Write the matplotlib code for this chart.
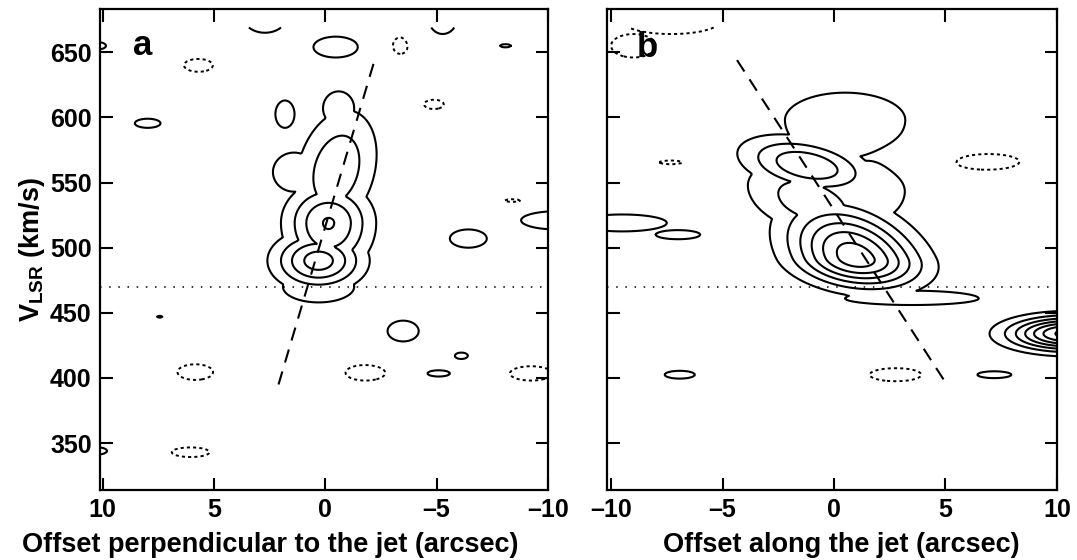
import numpy as np
import matplotlib
matplotlib.use("Agg")
import matplotlib.pyplot as plt

plt.rcParams["font.family"] = ["Liberation Sans", "DejaVu Sans"]
plt.rcParams["font.weight"] = "bold"
plt.rcParams["axes.labelweight"] = "bold"
plt.rcParams["mathtext.fontset"] = "custom"
plt.rcParams["mathtext.bf"] = "Liberation Sans:bold"
plt.rcParams["mathtext.rm"] = "Liberation Sans:bold"

# ---------------- data ----------------
xticks_a = [10, 5, 0, -5, -10]
xticks_b = [-10, -5, 0, 5, 10]
yticks = [350, 400, 450, 500, 550, 600, 650]
xlim_a = (10.12, -10.0)
xlim_b = (-10.17, 10.02)
ylim = (314, 683)
v_top_of_cube = 669          # velocity coverage of the data cube ends here
v_systemic = 470
jet_a_x = [2.1, -2.2]
jet_a_v = [395, 643]
jet_b_x = [-4.35, 5.1]
jet_b_v = [644, 394]

levels_pos = [1, 2, 3, 4, 5, 6, 7]
levels_neg = [-1]

# emission knots: (offset, velocity, peak level, half-width x of lowest contour,
#                  half-width v below, half-width v above, shear dx/dv)
knots_a = [
    (0.3, 490, 4.5, 2.3, 25, 25, 0.0),
    (0.3, 470, 1.6, 1.6, 12, 12, 0.0),
    (-0.15, 519, 4.08, 2.14, 40, 33, 0.0),
    (-0.5, 560, 2.8, 1.75, 45.5, 45.5, -0.01),
    (-0.6, 607, 1.4, 0.7, 13, 13, 0.0),
    (1.4, 558, 1.5, 0.95, 15, 15, 0.0),
]
knots_b = [
    (1.0, 492, 6.6, 3.6, 30, 52, -0.028),
    (-1.2, 563, 3.9, 2.9, 23, 24, -0.05),
    (-1.0, 535, 2.6, 2.6, 27, 30, -0.04),
    (0.5, 598, 1.7, 2.7, 30, 21, 0.0),
    (1.7, 545, 1.5, 1.5, 24, 24, 0.0),
    (3.5, 461, 1.5, 3.0, 5, 6, 0.0),
    (10.6, 434, 7.5, 3.62, 17.5, 17.5, 0.0),
]
# single-contour islands: (offset, velocity, half-width x, half-width v)
islands_a_pos = [
    (2.71, 678, 1.0, 13), (-5.27, 676, 0.65, 12), (-0.47, 654, 1.0, 8),
    (-8.1, 655, 0.25, 1.2), (7.98, 595.5, 0.58, 3.5), (1.81, 602.5, 0.43, 10.5),
    (-6.43, 507, 0.83, 7), (-10.4, 521, 1.6, 7), (-3.5, 436, 0.7, 8),
    (-6.12, 417, 0.3, 2.5), (-5.07, 403.5, 0.55, 2.5), (7.44, 447, 0.12, 0.8),
    (10.3, 655, 0.45, 3), (10.35, 344, 0.55, 3),
]
islands_a_neg = [
    (5.69, 640, 0.66, 5), (-3.33, 655, 0.43, 7.5), (-4.88, 610, 0.45, 3.6),
    (-8.45, 536, 0.59, 1.8), (5.84, 404.5, 0.8, 6), (-1.81, 404, 0.9, 6),
    (-9.25, 403.5, 0.95, 5.5), (6.05, 343, 0.85, 3.7),
]
islands_b_pos = [
    (-6.92, 402.5, 0.68, 3), (7.15, 402.5, 0.82, 2.7),
    (-9.5, 519, 2.0, 6.5), (-7.0, 510, 1.0, 3.5),
]
islands_b_neg = [
    (-9.0, 655, 1.0, 9), (-7.3, 674, 2.2, 10), (-7.3, 565.5, 0.55, 1.5),
    (6.7, 566, 1.65, 6.6), (2.77, 402.5, 1.17, 5),
]
island_peak = 1.35

# ---------------- build the position-velocity maps ----------------
xg = np.arange(-10.6, 10.61, 0.05)
vg = np.arange(330, v_top_of_cube + 0.1, 1.0)
X, V = np.meshgrid(xg, vg)


def knot(x0, v0, amp, hx, hv_lo, hv_hi, k):
    r = np.sqrt(2 * np.log(abs(amp)))
    sx = hx / r
    sv = np.where(V < v0, hv_lo, hv_hi) / r
    return amp * np.exp(-0.5 * ((X - x0 - k * (V - v0)) / sx) ** 2
                        - 0.5 * ((V - v0) / sv) ** 2)


def build(knots, pos, neg):
    comps = [knot(*p) for p in knots]
    comps += [knot(x0, v0, island_peak, hx, hv, hv, 0) for x0, v0, hx, hv in pos]
    posmap = np.max(comps, axis=0)
    negs = [knot(x0, v0, -island_peak, hx, hv, hv, 0) for x0, v0, hx, hv in neg]
    negmap = np.min(negs, axis=0)
    return posmap + negmap


Za = build(knots_a, islands_a_pos, islands_a_neg)
Zb = build(knots_b, islands_b_pos, islands_b_neg)

# ---------------- figure ----------------
fig = plt.figure(figsize=(10.77, 5.6), dpi=100)
ax_a = fig.add_axes([0.0929, 0.125, 0.4157, 0.8584])
ax_b = fig.add_axes([0.5639, 0.125, 0.4178, 0.8584])

for ax, Z, xl, xt, jx, jv in [(ax_a, Za, xlim_a, xticks_a, jet_a_x, jet_a_v),
                              (ax_b, Zb, xlim_b, xticks_b, jet_b_x, jet_b_v)]:
    ax.contour(X, V, Z, levels=levels_pos, colors="k", linewidths=1.5,
               linestyles="solid")
    ax.contour(X, V, Z, levels=levels_neg, colors="k", linewidths=1.4,
               linestyles=[(0, (1.6, 1.6))])
    ax.axhline(v_systemic, color="k", lw=1.1, linestyle=(0, (1, 5)))
    ax.plot(jx, jv, color="k", lw=1.5, linestyle=(0, (6.5, 4.5)))
    ax.set_xlim(*xl)
    ax.set_ylim(*ylim)
    ax.set_xticks(xt)
    ax.set_yticks(yticks)
    ax.xaxis.set_major_formatter(matplotlib.ticker.FuncFormatter(
        lambda v, p: f"{int(v)}".replace("-", "\u2013")))
    ax.tick_params(direction="in", length=9, width=1.5, top=True, right=True,
                   labelsize=18, pad=6)
    for s in ax.spines.values():
        s.set_linewidth(1.6)

ax_b.tick_params(labelleft=False)
ax_a.set_xlabel("Offset perpendicular to the jet (arcsec)", fontsize=19.5)
ax_a.xaxis.set_label_coords(0.38, -0.087, transform=ax_a.transAxes)
ax_b.set_xlabel("Offset along the jet (arcsec)", fontsize=19.5)
ax_b.xaxis.set_label_coords(0.52, -0.087, transform=ax_b.transAxes)
ax_a.xaxis.label.set_va("top")
ax_b.xaxis.label.set_va("top")
ax_a.set_ylabel(r"$\mathbf{V}_{\mathbf{LSR}}$ (km/s)", fontsize=19.5, labelpad=2)
ax_a.text(0.074, 0.905, "a", transform=ax_a.transAxes, fontsize=25, fontweight="bold")
ax_b.text(0.066, 0.9, "b", transform=ax_b.transAxes, fontsize=25, fontweight="bold")

fig.savefig("out.png", dpi=100)
